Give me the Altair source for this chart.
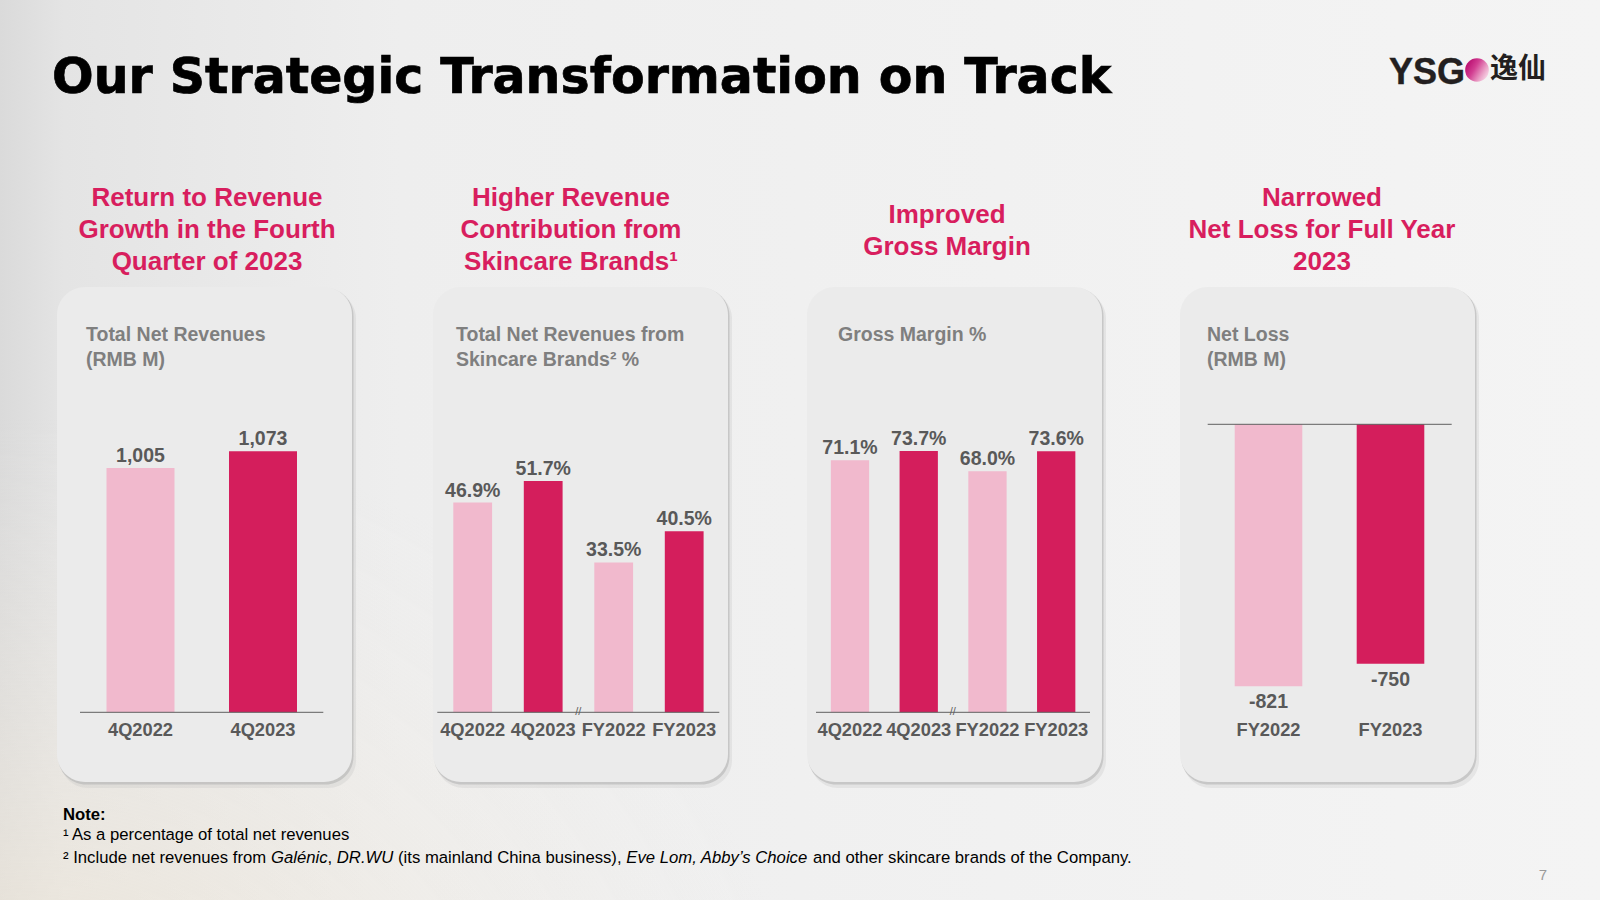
import altair as alt
import pandas as pd

# ---------------- data ----------------
rev_periods = ["4Q2022", "4Q2023"]
rev_values = [1005, 1073]                      # total net revenues, RMB M

skin_periods = ["4Q2022", "4Q2023", "FY2022", "FY2023"]
skin_share = [46.9, 51.7, 33.5, 40.5]          # skincare share of revenues, %

gm_periods = ["4Q2022", "4Q2023", "FY2022", "FY2023"]
gm_values = [71.1, 73.7, 68.0, 73.6]           # gross margin, %

loss_periods = ["FY2022", "FY2023"]
loss_values = [-821, -750]                     # net loss, RMB M

shade_pair = ["prior", "current"]
shade_quad = ["prior", "current", "prior", "current"]

# ---------------- styling ----------------
SANS = "Liberation Sans"
LIGHT = "#f1b9cd"
DARK = "#d41e5c"
PINK_HEAD = "#d81e5e"
VALUE_GREY = "#595959"
SUB_GREY = "#7f7f7f"
AXIS_GREY = "#5f5f5f"
CARD_FILL = "#ebebeb"

ONE = pd.DataFrame({"k": [0]})


def txt(text, x, y, size, color, weight="normal", align="left",
        baseline="alphabetic", font=SANS, style="normal", line_height=None,
        stroke_width=0):
    kw = dict(text=text, fontSize=size, fill=color, fontWeight=weight,
              align=align, baseline=baseline, font=font, fontStyle=style)
    if line_height:
        kw["lineHeight"] = line_height
    if stroke_width:
        kw["stroke"] = color
        kw["strokeWidth"] = stroke_width
    return alt.Chart(ONE).mark_text(**kw).encode(x=alt.value(x), y=alt.value(y))


def box(x0, x1, y0, y1, **mark):
    return alt.Chart(ONE).mark_rect(**mark).encode(
        x=alt.value(x0), x2=alt.value(x1), y=alt.value(y0), y2=alt.value(y1))


def band(periods, first_center, last_center, bar_width):
    step = (last_center - first_center) / (len(periods) - 1)
    return alt.Scale(type="band", domain=periods,
                     range=[first_center - bar_width / 2, last_center + bar_width / 2],
                     paddingInner=1 - bar_width / step, paddingOuter=0)


def bar_panel(periods, values, shades, xs, ys, label_expr, rule_x,
              below=False, break_x=None):
    df = pd.DataFrame({"period": periods, "value": values, "shade": shades})
    base = alt.Chart(df)
    x_bar = alt.X("period:N", scale=xs, axis=None)
    x_mid = alt.X("period:N", scale=xs, axis=None, bandPosition=0.5)
    y_val = alt.Y("value:Q", scale=ys, axis=None)

    bars = base.mark_bar().encode(
        x=x_bar, y=y_val, y2=alt.datum(0),
        color=alt.Color("shade:N", legend=None,
                        scale=alt.Scale(domain=["prior", "current"], range=[LIGHT, DARK])),
    )
    values_txt = base.transform_calculate(lbl=label_expr).mark_text(
        font=SANS, fontSize=19.5, fontWeight="bold", fill=VALUE_GREY,
        align="center", baseline="alphabetic", dy=22 if below else -6,
    ).encode(x=x_mid, y=y_val, text="lbl:N")
    cats = base.mark_text(
        font=SANS, fontSize=18.3, fontWeight="bold", fill=VALUE_GREY,
        align="center", baseline="alphabetic",
    ).encode(x=x_mid, y=alt.value(736), text="period:N")
    zero = alt.Chart(pd.DataFrame({"v": [0]})).mark_rule(
        color=AXIS_GREY, strokeWidth=1
    ).encode(y=alt.Y("v:Q", scale=ys, axis=None),
             x=alt.value(rule_x[0]), x2=alt.value(rule_x[1]))
    out = [bars, zero, values_txt, cats]
    if break_x is not None:
        out.append(txt("//", break_x, 712, 11, AXIS_GREY, align="center",
                       baseline="middle"))
    return out


layers = []

# ---------------- page background ----------------
layers.append(box(0, 1600, 0, 900, fill=alt.LinearGradient(
    gradient="linear", x1=0, y1=0, x2=1, y2=0,
    stops=[alt.GradientStop(offset=0, color="#dadada"),
           alt.GradientStop(offset=0.04, color="#e4e4e4"),
           alt.GradientStop(offset=0.25, color="#eeeeee"),
           alt.GradientStop(offset=1, color="#f4f4f4")])))
layers.append(box(0, 1600, 0, 900, fill=alt.RadialGradient(
    gradient="radial", x1=0.02, y1=0.98, x2=0.02, y2=0.98, r1=0, r2=0.5,
    stops=[alt.GradientStop(offset=0, color="rgba(240,228,206,0.95)"),
           alt.GradientStop(offset=0.45, color="rgba(241,233,219,0.5)"),
           alt.GradientStop(offset=1, color="rgba(241,238,233,0)")])))

# ---------------- cards ----------------
CARD_LEFTS = [57, 433, 807, 1180]
CARD_W, CARD_TOP, CARD_BOTTOM, RADIUS = 295, 287, 782, 28
for left in CARD_LEFTS:
    layers.append(box(left + 3, left + CARD_W + 4, CARD_TOP + 4, CARD_BOTTOM + 6,
                      fill="#bcbcbc", opacity=0.25, cornerRadius=RADIUS))
    layers.append(box(left + 1, left + CARD_W + 1.5, CARD_TOP + 1, CARD_BOTTOM + 2.5,
                      fill="#b4b4b4", opacity=0.6, cornerRadius=RADIUS))
    layers.append(box(left, left + CARD_W, CARD_TOP, CARD_BOTTOM,
                      fill=CARD_FILL, cornerRadius=RADIUS))

# ---------------- headings above cards ----------------
headings = [
    (207, 206.3, ["Return to Revenue", "Growth in the Fourth", "Quarter of 2023"]),
    (571, 206.3, ["Higher Revenue", "Contribution from", "Skincare Brands¹"]),
    (947, 222.6, ["Improved", "Gross Margin"]),
    (1322, 206.3, ["Narrowed", "Net Loss for Full Year", "2023"]),
]
for cx, y0, lines in headings:
    layers.append(txt(lines, cx, y0, 26, PINK_HEAD, weight="bold",
                      align="center", line_height=32))

# ---------------- card subtitles ----------------
subtitles = [
    (86, ["Total Net Revenues", "(RMB M)"]),
    (456, ["Total Net Revenues from", "Skincare Brands² %"]),
    (838, ["Gross Margin %"]),
    (1207, ["Net Loss", "(RMB M)"]),
]
for sx, lines in subtitles:
    layers.append(txt(lines, sx, 341, 19.5, SUB_GREY, weight="bold", line_height=24.5))

# ---------------- bar panels ----------------
BASE_Y = 712.3
layers += bar_panel(
    rev_periods, rev_values, shade_pair,
    band(rev_periods, 140.5, 263, 68),
    alt.Scale(domain=[0, 1000], range=[BASE_Y, BASE_Y - 243.2], nice=False),
    "format(datum.value, ',')", (80, 323.3))

layers += bar_panel(
    skin_periods, skin_share, shade_quad,
    band(skin_periods, 472.7, 684.2, 38.8),
    alt.Scale(domain=[0, 50], range=[BASE_Y, BASE_Y - 223.6], nice=False),
    "format(datum.value, '.1f') + '%'", (437.3, 719.3), break_x=578.3)

layers += bar_panel(
    gm_periods, gm_values, shade_quad,
    band(gm_periods, 850, 1056.2, 38.3),
    alt.Scale(domain=[0, 70], range=[BASE_Y, BASE_Y - 248.2], nice=False),
    "format(datum.value, '.1f') + '%'", (816, 1090), break_x=952.7)

ZERO_Y = 424.3
layers += bar_panel(
    loss_periods, loss_values, shade_pair,
    band(loss_periods, 1268.5, 1390.5, 67.6),
    alt.Scale(domain=[-800, 0], range=[ZERO_Y + 255.3, ZERO_Y], nice=False),
    "'-' + format(abs(datum.value), ',')", (1207.7, 1451.7), below=True)

# ---------------- title and logo ----------------
layers.append(txt("Our Strategic Transformation on Track", 52, 93, 49.0, "#000000",
                  weight="bold", font="DejaVu Sans", stroke_width=0.7))
layers.append(txt("YSG", 1389, 84, 36, "#231f20", weight="bold", stroke_width=0.4))
layers.append(alt.Chart(ONE).mark_circle(
    size=560, opacity=1,
    fill=alt.LinearGradient(
        gradient="linear", x1=0, y1=0.3, x2=1, y2=0.9,
        stops=[alt.GradientStop(offset=0, color="#b80b6f"),
               alt.GradientStop(offset=0.35, color="#d23f92"),
               alt.GradientStop(offset=0.7, color="#eba3c8"),
               alt.GradientStop(offset=1, color="#fcecf3")]),
).encode(x=alt.value(1477), y=alt.value(70)))
layers.append(txt("逸仙", 1490, 70, 28, "#231f20", weight="bold",
                  font="Noto Sans CJK SC", baseline="middle"))

# ---------------- footnotes ----------------
HELV = {" ": 278, "'": 191, "(": 333, ")": 333, ",": 278, "-": 333, ".": 278,
        ":": 278, "A": 667, "B": 667, "C": 722, "D": 722, "E": 667, "F": 611,
        "G": 778, "I": 278, "L": 556, "R": 722, "S": 667, "U": 722, "W": 944,
        "a": 556, "b": 556, "c": 500, "d": 556, "e": 556, "f": 278, "g": 556,
        "h": 556, "i": 222, "l": 222, "m": 833, "n": 556, "o": 556, "p": 556,
        "r": 333, "s": 500, "t": 278, "u": 556, "v": 500, "y": 500, "k": 500,
        "é": 556, "’": 222, "¹": 333, "²": 333}
NOTE_SIZE = 16.7


def text_width(s, size):
    return sum(HELV.get(c, 556) for c in s) * size / 1000


layers.append(txt("Note:", 63, 820, NOTE_SIZE, "#000000", weight="bold"))
layers.append(txt("¹\u2009As a percentage of total net revenues", 63, 840, NOTE_SIZE, "#000000"))

note2 = [("² Include net revenues from ", False), ("Galénic", True), (", ", False),
         ("DR.WU", True), (" (its mainland China business), ", False),
         ("Eve Lom, Abby’s Choice", True),
         (" and other skincare brands of the Company.", False)]
cursor = 63
for piece, italic in note2:
    lead = len(piece) - len(piece.lstrip(" "))
    layers.append(txt(piece.strip(" "), cursor + text_width(" " * lead, NOTE_SIZE),
                      863, NOTE_SIZE, "#000000",
                      style="italic" if italic else "normal"))
    cursor += text_width(piece, NOTE_SIZE)

layers.append(txt("7", 1543, 875, 15, "#9a9a9a", align="center", baseline="middle"))

chart = alt.layer(*layers).properties(
    width=1600, height=900, padding=0, background="#efefef",
    autosize=alt.AutoSizeParams(type="none"),
).resolve_scale(x="independent", y="independent").configure_view(stroke="transparent")

chart.save("out.html", embed_options={"renderer": "svg", "actions": False})
